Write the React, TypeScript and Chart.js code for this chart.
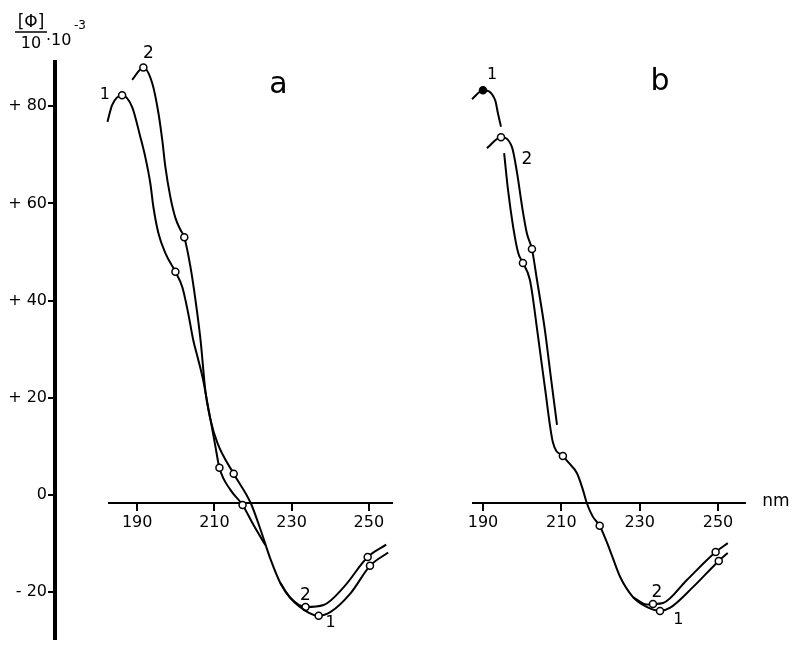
import React, { useEffect, useRef } from 'react';
import { Chart, registerables } from 'chart.js';
Chart.register(...registerables);

// ---------- data ----------
const yTicks = [-20, 0, 20, 40, 60, 80];
const xTicks = [190, 210, 230, 250];
const yRange = [-29.7, 89.1];
const xRangeA = [182.7, 256.0];
const xRangeB = [187.45, 256.9];

// panel a, curve 1
const a1X = [182.3, 183.5, 186.1, 188.7, 190.8, 192.1, 193.4, 194.2, 195.5, 197.3, 199.9, 201.7, 203.2, 204.5, 205.8, 207.1, 209.0, 210.8, 215.0, 219.4, 222.0, 224.6, 227.1, 229.7, 234.5, 237.0, 240.1, 245.3, 250.3, 255.0];
const a1Y = [77, 80.4, 82.4, 80, 74, 69.9, 64.6, 59.8, 54.5, 50.5, 46.7, 43.6, 38.4, 33, 29, 24.8, 16.8, 12.1, 5.9, 0, -5.5, -11.5, -16.2, -19.2, -22.2, -22.8, -22, -18.2, -12.7, -10];
const a1Marks = [186.1, 199.9, 215.0, 237.0, 250.3];
// panel a, curve 2
const a2X = [188.7, 191.6, 193.9, 195.5, 196.5, 197.3, 198.6, 199.9, 201.2, 202.2, 203.8, 205.1, 206.4, 207.7, 209.0, 210.2, 211.3, 214.2, 217.3, 220.1, 223.2, 225.0, 227.1, 229.7, 233.6, 238.3, 243.5, 249.7, 254.5];
const a2Y = [85.5, 88, 84.8, 78.8, 73.3, 67.9, 61.8, 57.6, 55.2, 53.7, 47.7, 41, 33, 22.4, 16.8, 11.7, 7.1, 2.6, -0.4, -4.4, -8.5, null, -16.2, -19.2, -21, -20.6, -17, -10.9, -8.4];
const a2Marks = [191.6, 202.2, 211.3, 217.3, 233.6, 249.7];

// panel b, curve 1
const b1X = [187.2, 190.0, 193.1, 193.8, 194.6, 195.0, 195.4, 196.4, 197.7, 199.0, 200.2, 202.0, 204.0, 205.8, 207.9, 210.4, 211.7, 214.0, 215.5, 216.5, 218.0, 219.8, 222.4, 225.0, 228.3, 231.8, 235.2, 237.7, 243.6, 250.2, 252.5];
const b1Y = [81.6, 83.4, 81.4, 78.8, 76, null, 70.7, 63.2, 55.8, 50.5, 48.5, 45, 34, 23.4, 12.1, 9.5, 8.3, 6.0, 2.7, 0, -2.7, -4.6, -9.5, -14.9, -19, -21, -21.8, -21.2, -17, -11.7, -10.1];
const b1Marks = [190.0, 200.2, 210.4, 219.8, 235.2, 250.2];
const b1Filled = [190.0];
// panel b, curve 2
const b2X = [191.0, 194.6, 197.4, 198.7, 200.0, 201.2, 202.5, 203.8, 205.8, 207.4, 208.9, 220.0, 228.3, 231.8, 233.4, 236.0, 242.0, 249.4, 252.5];
const b2Y = [71.7, 73.9, 71.9, 66.7, 59.8, 54.5, 51.3, 45, 35, 25, 15.8, null, -19, -20.5, -20.4, -20.2, -15.6, -9.9, -8.1];
const b2Marks = [194.6, 202.5, 233.4, 249.4];

// text annotations (data coordinates)
const labelsA = [
  { t: '1', x: 181.6, y: 82.4, size: 16 },
  { t: '2', x: 192.9, y: 90.9, size: 17 },
  { t: '2', x: 233.6, y: -18.8, size: 17 },
  { t: '1', x: 240.1, y: -24.2, size: 16 },
  { t: 'a', x: 226.6, y: 84.4, size: 30 },
];
const labelsB = [
  { t: '1', x: 192.3, y: 86.5, size: 16 },
  { t: '2', x: 201.2, y: 69.3, size: 17 },
  { t: '2', x: 234.4, y: -18.0, size: 17 },
  { t: '1', x: 239.9, y: -23.6, size: 16 },
  { t: 'b', x: 235.2, y: 85.0, size: 30 },
  { t: 'nm', x: 264.8, y: 0.3, size: 17 },
];

const FONT = "'DejaVu Sans', sans-serif";

function makeDataset(xs: number[], ys: (number | null)[], marks: number[], filled: number[] = []) {
  return {
    data: xs.map((x, i) => ({ x, y: ys[i] })),
    borderColor: '#000',
    borderWidth: 2,
    fill: false,
    tension: 0.4,
    cubicInterpolationMode: 'monotone',
    spanGaps: false,
    clip: false,
    pointRadius: xs.map((x) => (marks.includes(x) ? 3.5 : 0)),
    pointBackgroundColor: xs.map((x) => (filled.includes(x) ? '#000' : '#fff')),
    pointBorderColor: '#000',
    pointBorderWidth: 1.5,
  };
}

function textPlugin(items: { t: string; x: number; y: number; size: number }[]) {
  return {
    id: 'txt',
    afterDraw(chart: any) {
      const { ctx, scales } = chart;
      ctx.save();
      ctx.fillStyle = '#000';
      ctx.textAlign = 'center';
      ctx.textBaseline = 'middle';
      for (const it of items) {
        ctx.font = `${it.size}px ${FONT}`;
        ctx.fillText(it.t, scales.x.getPixelForValue(it.x), scales.y.getPixelForValue(it.y));
      }
      ctx.restore();
    },
  };
}

function panelConfig(datasets: any[], xRange: number[], pad: any, items: any[]) {
  return {
    type: 'line',
    data: { datasets },
    options: {
      animation: false,
      responsive: false,
      maintainAspectRatio: false,
      layout: { padding: pad },
      plugins: { legend: { display: false }, tooltip: { enabled: false } },
      scales: {
        x: {
          type: 'linear',
          min: xRange[0],
          max: xRange[1],
          position: { y: 0 },
          afterBuildTicks: (s: any) => {
            s.ticks = xTicks.map((v) => ({ value: v }));
          },
          grid: { drawOnChartArea: false, drawTicks: true, tickLength: 7, color: '#000', lineWidth: 2 },
          border: { display: true, color: '#000', width: 2 },
          ticks: { color: '#000', font: { family: FONT, size: 16 }, padding: 3, maxRotation: 0, autoSkip: false },
        },
        y: { type: 'linear', display: false, min: yRange[0], max: yRange[1] },
      },
    },
    plugins: [textPlugin(items)],
  };
}

const titlePlugin = {
  id: 'title',
  afterDraw(chart: any) {
    const { ctx, chartArea } = chart;
    const cx = chartArea.left - 24;
    const top = chartArea.top;
    ctx.save();
    ctx.fillStyle = '#000';
    ctx.strokeStyle = '#000';
    ctx.textBaseline = 'alphabetic';
    ctx.textAlign = 'center';
    ctx.font = `17px ${FONT}`;
    ctx.fillText('[Φ]', cx, top - 35);
    ctx.lineWidth = 1.5;
    ctx.beginPath();
    ctx.moveTo(cx - 16, top - 30);
    ctx.lineTo(cx + 16, top - 30);
    ctx.stroke();
    ctx.font = `16px ${FONT}`;
    ctx.fillText('10', cx, top - 14);
    ctx.textAlign = 'left';
    ctx.fillText('·10', cx + 15, top - 17);
    ctx.font = `12px ${FONT}`;
    ctx.fillText('-3', cx + 43, top - 33);
    ctx.restore();
  },
};

export default function App() {
  const yRef = useRef<HTMLCanvasElement>(null);
  const aRef = useRef<HTMLCanvasElement>(null);
  const bRef = useRef<HTMLCanvasElement>(null);

  useEffect(() => {
    const yChart = new Chart(yRef.current as HTMLCanvasElement, {
      type: 'line',
      data: { datasets: [] },
      options: {
        animation: false,
        responsive: false,
        maintainAspectRatio: false,
        layout: { padding: { top: 62, bottom: 0, left: 0, right: 0 } },
        plugins: { legend: { display: false }, tooltip: { enabled: false } },
        scales: {
          x: { type: 'linear', display: false, min: 0, max: 1 },
          y: {
            type: 'linear',
            position: 'left',
            min: yRange[0],
            max: yRange[1],
            afterFit: (s: any) => {
              s.width = 55;
            },
            afterBuildTicks: (s: any) => {
              s.ticks = yTicks.map((v) => ({ value: v }));
            },
            grid: { drawOnChartArea: false, drawTicks: true, tickLength: 7, color: '#000', lineWidth: 2 },
            border: { display: true, color: '#000', width: 4 },
            ticks: {
              color: '#000',
              font: { family: FONT, size: 16 },
              padding: 1,
              callback: (v: any) => (v > 0 ? '+ ' + v : v < 0 ? '- ' + Math.abs(v) : '0'),
            },
          },
        },
      },
      plugins: [titlePlugin],
    } as any);

    const aChart = new Chart(
      aRef.current as HTMLCanvasElement,
      panelConfig(
        [makeDataset(a1X, a1Y, a1Marks), makeDataset(a2X, a2Y, a2Marks)],
        xRangeA,
        { top: 62, bottom: 0, left: 49, right: 38 },
        labelsA
      ) as any
    );

    const bChart = new Chart(
      bRef.current as HTMLCanvasElement,
      panelConfig(
        [makeDataset(b1X, b1Y, b1Marks, b1Filled), makeDataset(b2X, b2Y, b2Marks)],
        xRangeB,
        { top: 62, bottom: 0, left: 43, right: 48 },
        labelsB
      ) as any
    );

    return () => {
      yChart.destroy();
      aChart.destroy();
      bChart.destroy();
    };
  }, []);

  return (
    <div style={{ position: 'absolute', left: 0, top: 0, width: 793, height: 650, background: '#fff', overflow: 'hidden' }}>
      <canvas ref={yRef} width={100} height={650} style={{ position: 'absolute', left: 0, top: 0, width: 100, height: 650 }} />
      <canvas ref={aRef} width={370} height={650} style={{ position: 'absolute', left: 60, top: 0, width: 370, height: 650 }} />
      <canvas ref={bRef} width={363} height={650} style={{ position: 'absolute', left: 430, top: 0, width: 363, height: 650 }} />
    </div>
  );
}
